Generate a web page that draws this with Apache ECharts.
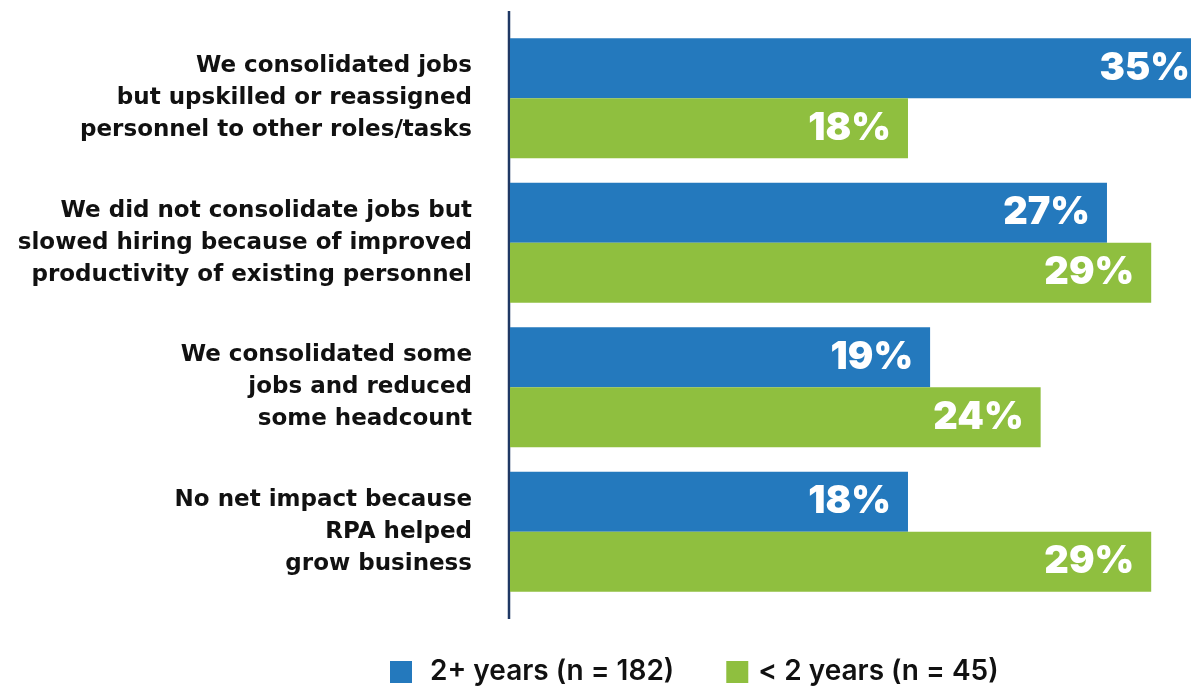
<!DOCTYPE html>
<html>
<head>
<meta charset="utf-8">
<script src="https://cdn.jsdelivr.net/npm/echarts@6/dist/echarts.min.js"></script>
<style>
  html, body { margin: 0; padding: 0; background: #ffffff; }
  #main { width: 1191px; height: 687px; }
</style>
</head>
<body>
<div id="main"></div>
<script>
// categories, top to bottom
var categories = [
  'We consolidated jobs\nbut upskilled or reassigned\npersonnel to other roles/tasks',
  'We did not consolidate jobs but\nslowed hiring because of improved\nproductivity of existing personnel',
  'We consolidated some\njobs and reduced\nsome headcount',
  'No net impact because\nRPA helped\ngrow business'
];
var seriesNames = ['2+ years (n = 182)', '< 2 years (n = 45)'];
var moreThan2 = [35, 27, 19, 18];
var lessThan2 = [18, 29, 24, 29];
var axisMax = 30.8; // the 35% bar is cut off by the right edge, as in the original

var chart = echarts.init(document.getElementById('main'));

var labelStyle = {
  show: true,
  position: 'insideRight',
  distance: 17,
  color: '#ffffff',
  fontFamily: 'Inter',
  fontWeight: 900,
  fontSize: 38,
  formatter: '{c}%'
};

// bars running past the edge get their label pushed right up against it
function toData(values) {
  return values.map(function (v) {
    return v > axisMax ? { value: v, label: { distance: 1 } } : v;
  });
}

var option = {
  backgroundColor: '#ffffff',
  animation: false,
  grid: {
    left: 510,
    right: 0,
    top: 26,
    bottom: 83
  },
  xAxis: {
    type: 'value',
    min: 0,
    max: axisMax,
    show: false
  },
  yAxis: {
    type: 'category',
    data: categories,
    inverse: true,
    axisLine: { show: false },
    axisTick: { show: false },
    axisLabel: {
      margin: 38,
      color: '#111111',
      fontFamily: 'DejaVu Sans',
      fontWeight: 'bold',
      fontSize: 23,
      lineHeight: 32,
      align: 'right'
    }
  },
  legend: {
    left: 385,
    top: 653,
    itemWidth: 22,
    itemHeight: 22,
    itemGap: 52,
    icon: 'rect',
    textStyle: {
      color: '#111111',
      fontFamily: 'Inter',
      fontWeight: 600,
      fontSize: 28
    },
    data: [
      { name: seriesNames[0], textStyle: { padding: [0, 0, 0, 13] } },
      { name: seriesNames[1], textStyle: { padding: [0, 0, 0, 5] } }
    ]
  },
  graphic: [{
    type: 'line',
    shape: { x1: 509, y1: 11, x2: 509, y2: 619 },
    style: { stroke: '#1f3864', lineWidth: 2.5 }
  }],
  series: [
    {
      name: seriesNames[0],
      type: 'bar',
      data: toData(moreThan2),
      barWidth: 60,
      barGap: '0%',
      itemStyle: { color: '#2479bd' },
      label: labelStyle
    },
    {
      name: seriesNames[1],
      type: 'bar',
      data: toData(lessThan2),
      barWidth: 60,
      itemStyle: { color: '#8fbf3f' },
      label: labelStyle
    }
  ]
};

chart.setOption(option);
</script>
</body>
</html>
